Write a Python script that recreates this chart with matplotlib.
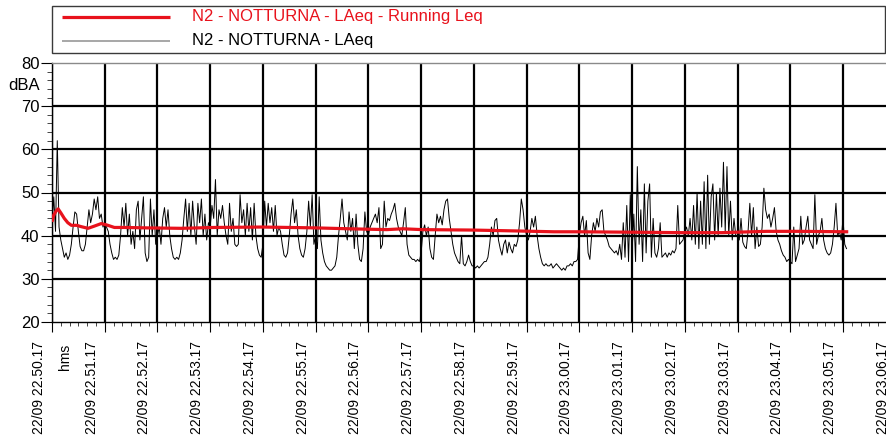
import numpy as np
import matplotlib
matplotlib.use("Agg")
import matplotlib.pyplot as plt
import matplotlib.transforms as mtransforms
from matplotlib.patches import Rectangle
from matplotlib.ticker import MultipleLocator

plt.rcParams['font.family'] = ['Liberation Sans', 'DejaVu Sans']

# LAeq samples every 2 s, starting 22/09 22.50.17 (one list per minute)
step = 2
min00 = [43, 49, 41, 62, 42, 39, 37, 35, 36, 34.5, 35.5, 38, 42, 45.5, 45, 41, 37.5, 36.5, 36.5, 38,
         42, 46, 43, 45, 48.5, 46, 49, 44, 45, 42]
min01 = [43, 42, 41, 38, 36, 34.5, 35, 34.5, 35.5, 40, 46.5, 42, 47.5, 40, 45, 38, 41, 37, 46, 48,
         39, 44, 49, 36, 34, 35, 48.5, 40, 46, 38]
min02 = [40, 42, 38, 44, 46.5, 42, 46, 40, 37, 35, 34.5, 35, 34.5, 36, 39, 44, 48.5, 41, 47.5, 40,
         48, 42, 38, 47.5, 43, 48.5, 40, 45, 39, 43]
min03 = [42, 47, 44, 53, 40, 46, 44, 47, 43, 40, 38, 47.5, 41, 44, 38, 37.5, 38, 49.5, 43, 46,
         40, 47.5, 41, 46.5, 39, 47.5, 40, 37, 35.5, 35]
min04 = [38, 48, 42, 47.5, 43, 46.5, 41, 47, 40, 42, 41, 38, 35.5, 35, 36, 40, 45, 48.5, 43, 46,
         40, 37, 35.5, 35, 37, 41, 48, 42, 49.5, 38]
min05 = [40, 37, 49, 39, 36, 34, 33, 32.5, 32, 32, 32.5, 33, 35, 40, 44, 48.5, 43, 41, 39, 45.5,
         41, 44, 37, 45, 38, 34.5, 34, 37, 45.5, 41]
min06 = [40, 42, 43, 44, 45, 43, 46.5, 37, 38, 48, 42, 44, 43.5, 45, 46, 47.5, 44, 42, 41, 40,
         43, 46.5, 38, 35.5, 35, 34.5, 34.5, 34, 34.5, 34]
min07 = [36, 41, 42.5, 40, 42, 37, 35, 34.5, 40, 45, 43, 44.5, 42.5, 46, 48, 48.5, 44, 41, 38, 36,
         35, 34, 33.5, 40, 33.5, 33, 34, 35.5, 34, 33]
min08 = [33, 32.5, 33, 32.5, 33, 33.5, 34, 34, 35, 38, 42, 40, 43.5, 44, 39, 37, 35.5, 38, 39, 36,
         38.5, 37, 36, 38, 37.5, 39, 43, 48.5, 46, 42]
min09 = [40, 39, 41, 44, 42, 44.5, 40, 37, 35, 33.5, 33, 33.5, 33, 33, 33.5, 32.5, 33, 33.5, 33, 32.5,
         32, 32.5, 32, 33, 33, 33.5, 33, 34, 34, 34.5]
min10 = [40, 43, 44.5, 40, 43.5, 36, 34.5, 40, 43, 41, 44, 42, 45.5, 46, 41, 40, 39, 37.5, 37, 36.5,
         36, 36.5, 35.5, 38, 34.5, 43, 35, 47, 34, 49.5]
min11 = [36, 45, 34, 56, 38, 46, 34, 52, 36, 48, 52, 35, 44, 36, 35, 37, 43, 35, 35.5, 36,
         35, 36, 35.5, 36.5, 36, 37, 47, 38, 38.5, 39]
min12 = [41, 42, 40, 44, 39, 47, 38, 50, 37, 48, 38, 52.5, 37, 54, 38, 49, 52, 39, 50, 40,
         51, 42, 57, 41, 56, 40, 48, 39, 44, 40]
min13 = [40, 39, 44, 38.5, 37.5, 37, 41, 47.5, 40, 46.5, 37, 42, 37.5, 38, 42, 51, 46, 44, 45, 42,
         44, 46.5, 41, 39, 38, 36.5, 35.5, 35, 34, 34.5]
min14 = [34, 33.5, 42, 34, 35.5, 37, 44.5, 38, 39, 42, 44.5, 39, 38, 37, 49.5, 38, 40, 41, 44, 39,
         37, 36, 35.5, 36, 38, 42, 47.5, 40, 41, 39, 44, 38, 37]

laeq = np.array(min00 + min01 + min02 + min03 + min04 + min05 + min06 + min07 +
                min08 + min09 + min10 + min11 + min12 + min13 + min14, dtype=float)
t_laeq = np.arange(len(laeq)) * step

# Running Leq (seconds from start, dBA)
leq_t = [0, 2, 5, 7, 10, 14, 18, 22, 28, 33, 41, 48, 56, 62, 71, 83, 109, 147, 185, 239,
         300, 337, 381, 399, 421, 478, 527, 571, 600, 661, 717, 762, 813, 851, 906]
leq_db = [43.2, 44.8, 45.8, 46.2, 45.3, 44.0, 43.0, 42.4, 42.4, 42.1, 41.7, 42.2, 42.8, 42.5, 41.9,
          41.9, 41.8, 41.7, 41.9, 42.0, 41.8, 41.6, 41.4, 41.6, 41.4, 41.3, 41.1, 40.9, 40.9, 40.8,
          40.7, 40.7, 41.0, 41.0, 40.9]

tick_labels = ["22/09 22.50.17", "22/09 22.51.17", "22/09 22.52.17", "22/09 22.53.17",
               "22/09 22.54.17", "22/09 22.55.17", "22/09 22.56.17", "22/09 22.57.17",
               "22/09 22.58.17", "22/09 22.59.17", "22/09 23.00.17", "22/09 23.01.17",
               "22/09 23.02.17", "22/09 23.03.17", "22/09 23.04.17", "22/09 23.05.17",
               "22/09 23.06.17"]
series_names = ["N2 - NOTTURNA - LAeq - Running Leq", "N2 - NOTTURNA - LAeq"]

red = '#e8121c'

fig = plt.figure(figsize=(8.87, 4.38), dpi=100)
ax = fig.add_axes([52 / 887, 116 / 438, 852.5 / 887, 259 / 438])

ax.plot(t_laeq, laeq, color='black', lw=0.7, zorder=3)
ax.plot(leq_t, leq_db, color=red, lw=2.3, zorder=4, solid_capstyle='butt')

ax.set_xlim(0, 970)
ax.set_ylim(20, 80)

# grid
ax.set_xticks(np.arange(0, 961, 60))
ax.xaxis.set_minor_locator(MultipleLocator(10))
ax.set_yticks(np.arange(20, 81, 10))
ax.yaxis.set_minor_locator(MultipleLocator(2))
ax.grid(axis='x', which='major', color='black', lw=1.6, zorder=1)
for lev in [30, 40, 50, 60, 70]:
    ax.axhline(lev, color='black', lw=1.6, zorder=1)
ax.set_axisbelow(True)

for side in ['right']:
    ax.spines[side].set_visible(False)
ax.spines['top'].set_color('#8a8a8a')
ax.spines['top'].set_linewidth(1.0)
ax.spines['left'].set_linewidth(1.0)
ax.spines['bottom'].set_linewidth(1.0)

ax.tick_params(axis='y', which='major', length=8, width=0.8, labelsize=12, pad=1)
ax.tick_params(axis='y', which='minor', length=3.6, width=0.7, color='#444444')
ax.tick_params(axis='x', which='major', length=7.2, width=0.8, labelsize=10, pad=6.5)
ax.tick_params(axis='x', which='minor', length=3, width=0.7, color='#444444')

ax.set_xticklabels(tick_labels, rotation=90)
shift = mtransforms.ScaledTranslation(-13 / 100, 0, fig.dpi_scale_trans)
for lab in ax.get_xticklabels():
    lab.set_transform(lab.get_transform() + shift)

fig.text(40 / 887, 1 - 85 / 438, 'dBA', ha='right', va='center', fontsize=12)
fig.text(65 / 887, 1 - 357 / 438, 'hms', rotation=90, ha='center', va='center', fontsize=10)

# legend panel on top
lax = fig.add_axes([0, 0, 1, 1], zorder=5)
lax.set_xlim(0, 887)
lax.set_ylim(438, 0)
lax.axis('off')
lax.add_patch(Rectangle((52, 6), 833, 47, fill=False, edgecolor='#3a3a3a', lw=1.0))
lax.plot([62, 170], [17, 17], color=red, lw=2.3, solid_capstyle='butt')
lax.plot([62, 170], [41, 41], color='#a0a0a0', lw=1.3, solid_capstyle='butt')
lax.text(192, 17, series_names[0], color=red, fontsize=12, va='center')
lax.text(192, 41, series_names[1], color='black', fontsize=12, va='center')

fig.savefig('out.png', dpi=100)
